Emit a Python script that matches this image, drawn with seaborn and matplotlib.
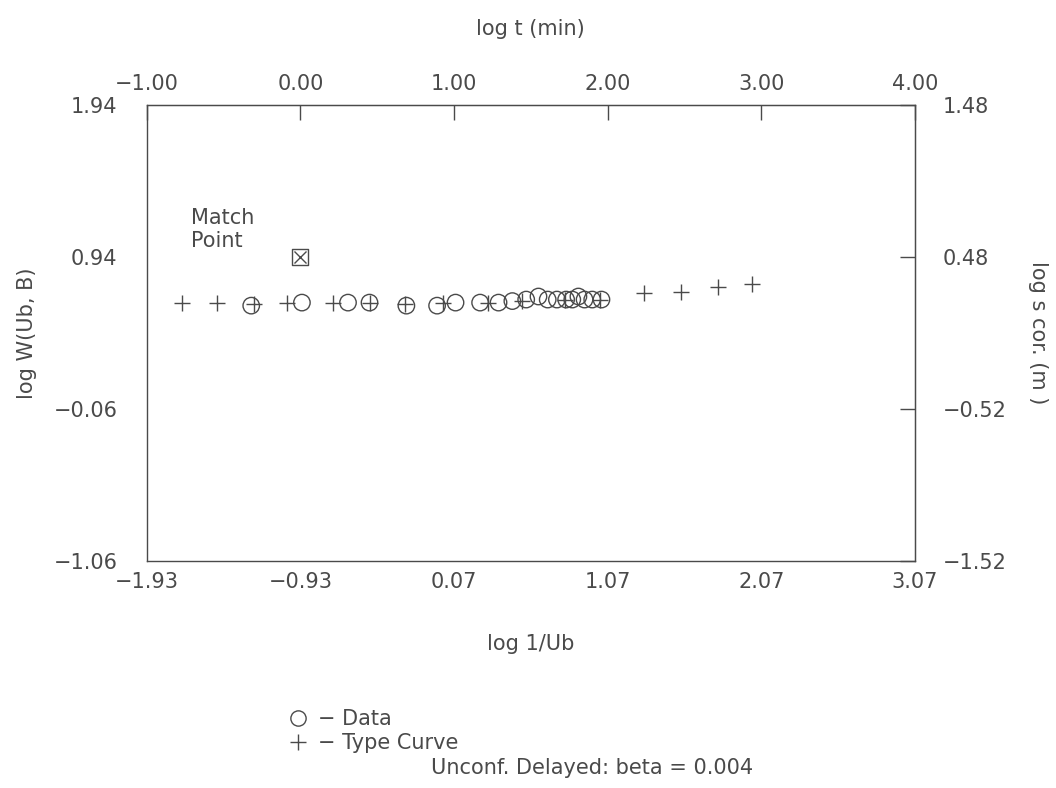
import matplotlib
matplotlib.use("Agg")
import matplotlib.pyplot as plt
from matplotlib.lines import Line2D
import seaborn as sns

# data (log 1/Ub vs log W(Ub, B))
data_x = [-1.25, -0.92, -0.62, -0.48, -0.24, -0.04, 0.08, 0.24, 0.36, 0.45,
          0.54, 0.62, 0.68, 0.74, 0.80, 0.84, 0.88, 0.92, 0.97, 1.03]
data_y = [0.62, 0.64, 0.64, 0.64, 0.62, 0.62, 0.64, 0.64, 0.64, 0.65,
          0.66, 0.68, 0.66, 0.66, 0.66, 0.66, 0.68, 0.66, 0.66, 0.66]

type_x = [-1.70, -1.47, -1.23, -1.02, -0.72, -0.48, -0.25, 0.00,
          0.29, 0.51, 0.79, 1.02, 1.31, 1.55, 1.79, 2.01]
type_y = [0.64, 0.64, 0.63, 0.64, 0.64, 0.64, 0.63, 0.64,
          0.64, 0.65, 0.66, 0.66, 0.70, 0.71, 0.74, 0.76]

match_x = [-0.93]
match_y = [0.94]

x_ticks = [-1.93, -0.93, 0.07, 1.07, 2.07, 3.07]
y_ticks = [-1.06, -0.06, 0.94, 1.94]
t_offset = 0.93    # log t = log 1/Ub + 0.93
s_offset = -0.46   # log s = log W - 0.46

sns.set_style("white")
plt.rcParams['font.family'] = ['DejaVu Sans']

ink = '#4a4a4a'
fs = 15

fig = plt.figure(figsize=(10.56, 7.88), dpi=100)
ax = fig.add_axes([0.139, 0.288, 0.7273, 0.5788])

sns.scatterplot(x=data_x, y=data_y, marker='o', s=140, fc='none', ec=ink,
                linewidth=1.0, ax=ax, zorder=3)
sns.scatterplot(x=type_x, y=type_y, marker='+', s=120, color=ink,
                linewidth=1.0, ax=ax, zorder=4)

# match point: box with a cross
ax.scatter(match_x, match_y, marker='s', s=130, fc='none', ec=ink, lw=1.0)
ax.scatter(match_x, match_y, marker='x', s=75, color=ink, lw=1.0)
ax.text(-1.64, 1.12, 'Match\nPoint', ha='left', va='center', fontsize=fs,
        color=ink, linespacing=1.15)

ax.set_xlim(x_ticks[0], x_ticks[-1])
ax.set_ylim(y_ticks[0], y_ticks[-1])
ax.set_xticks(x_ticks)
ax.set_xticklabels([f'{v:.2f}'.replace('-', '\u2212') for v in x_ticks])
ax.set_yticks(y_ticks)
ax.set_yticklabels([f'{v:.2f}'.replace('-', '\u2212') for v in y_ticks])

for sp in ax.spines.values():
    sp.set_color(ink)
    sp.set_linewidth(1.0)

ax.tick_params(axis='x', direction='in', length=11, width=1, color=ink,
               labelsize=fs, labelcolor=ink, pad=8, top=False)
ax.tick_params(axis='y', direction='in', length=11, width=1, color=ink,
               labelsize=fs, labelcolor=ink, pad=21, right=False)

ax.set_xlabel('log 1/Ub', fontsize=fs, color=ink, labelpad=30)
ax.set_ylabel('log W(Ub, B)', fontsize=fs, color=ink, labelpad=12)

# top axis: log t (min)
top = ax.secondary_xaxis('top', functions=(lambda x: x + t_offset,
                                           lambda x: x - t_offset))
t_ticks = [v + t_offset for v in x_ticks]
top.set_xticks(t_ticks)
top.set_xticklabels([f'{v:.2f}'.replace('-', '\u2212') for v in t_ticks])
top.tick_params(direction='in', length=11, width=1, color=ink,
                labelsize=fs, labelcolor=ink, pad=8)
top.spines['top'].set_color(ink)
top.set_xlabel('log t (min)', fontsize=fs, color=ink, labelpad=28)

# right axis: log s cor. (m)
right = ax.secondary_yaxis('right', functions=(lambda y: y + s_offset,
                                               lambda y: y - s_offset))
s_ticks = [v + s_offset for v in y_ticks]
right.set_yticks(s_ticks)
right.set_yticklabels([f'{v:.2f}'.replace('-', '\u2212') for v in s_ticks])
right.tick_params(direction='in', length=11, width=1, color=ink,
                  labelsize=fs, labelcolor=ink, pad=20)
right.spines['right'].set_color(ink)
right.set_ylabel('log s cor. (m )', fontsize=fs, color=ink, rotation=270,
                 labelpad=30)

# legend below the plot
handles = [
    Line2D([], [], marker='o', ls='none', ms=11, mfc='none', mec=ink, mew=1.0),
    Line2D([], [], marker='+', ls='none', ms=11, color=ink, mew=1.0),
]
fig.legend(handles, ['\u2212 Data', '\u2212 Type Curve'], loc='upper left',
           bbox_to_anchor=(0.272, 0.1), frameon=False, fontsize=fs,
           labelcolor=ink, handlelength=1.0, handletextpad=0.5,
           labelspacing=0.2, borderaxespad=0, borderpad=0)
fig.text(0.408, 0.026, 'Unconf. Delayed: beta = 0.004', fontsize=fs,
         color=ink, ha='left', va='center')

fig.savefig('out.png', dpi=100)
